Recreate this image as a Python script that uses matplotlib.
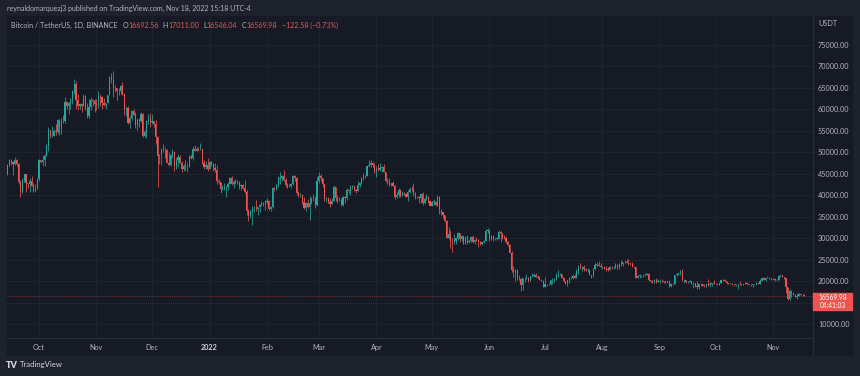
import numpy as np
import pandas as pd
import matplotlib
matplotlib.use("Agg")
import matplotlib.pyplot as plt
import matplotlib.dates as mdates
from matplotlib.patches import Rectangle
from matplotlib.text import Annotation

W, H = 860, 376
BG = "#161a25"
FRAME = "#1e222d"
UP = "#26a69a"
DOWN = "#ef5350"
TXT = "#b2b5be"
GRID = "#212530"
SEP = "#2a2e39"

plt.rcParams["font.family"] = ["Lato", "DejaVu Sans"]

# daily candles, BTC/USDT (thousands), Sep 14 2021 .. Nov 18 2022
first_open = 44.9
close = [
    # Sep 21 (14..30)
    47.1, 48.1, 47.8, 47.3, 48.3, 47.3, 43.0, 40.7, 43.6, 44.9, 42.8, 42.7, 43.2, 42.2, 41.0, 41.5, 43.8,
    # Oct 21
    48.1, 47.7, 48.2, 49.2, 51.5, 55.3, 53.8, 53.9, 54.9, 54.7, 57.5, 56.0, 57.4, 57.3, 61.7, 60.9,
    61.5, 62.0, 64.3, 66.0, 62.2, 60.7, 61.3, 60.9, 63.1, 60.3, 58.5, 60.6, 62.3, 61.9, 61.3,
    # Nov 21
    61.0, 63.2, 62.9, 61.4, 61.0, 61.5, 63.3, 67.5, 66.9, 64.9, 64.9, 64.2, 64.4, 65.5, 63.6,
    60.1, 60.4, 56.9, 58.1, 59.7, 58.7, 56.3, 57.6, 57.2, 58.9, 53.7, 54.7, 57.3, 57.8, 57.0,
    # Dec 21
    57.2, 56.5, 53.6, 49.2, 49.4, 50.6, 50.6, 50.5, 47.6, 47.1, 49.4, 50.1, 46.7, 48.3, 48.9, 47.6,
    46.2, 46.8, 46.7, 46.9, 49.0, 48.6, 50.8, 50.4, 50.8, 50.7, 50.7, 47.5, 46.5, 47.1, 46.2,
    # Jan 22
    47.7, 47.3, 46.4, 45.8, 43.4, 43.1, 41.5, 41.7, 41.8, 41.8, 42.7, 43.9, 42.6, 43.1, 43.2, 43.1,
    42.2, 42.4, 41.7, 40.7, 36.4, 35.1, 36.3, 36.7, 36.9, 36.8, 37.2, 37.7, 38.2, 37.9, 38.5,
    # Feb 22
    38.7, 36.9, 37.3, 41.6, 41.4, 42.4, 43.8, 44.0, 44.4, 43.5, 42.4, 42.2, 42.1, 42.5,
    44.5, 43.9, 40.5, 40.0, 40.1, 38.4, 37.0, 38.2, 37.3, 38.3, 39.2, 39.1, 37.7, 43.2,
    # Mar 22
    44.4, 43.9, 42.5, 39.1, 39.4, 38.4, 37.9, 38.7, 41.9, 39.4, 38.7, 38.8, 37.8, 39.7, 39.3, 41.1,
    40.9, 41.8, 42.2, 41.3, 41.0, 42.4, 42.9, 44.0, 44.3, 44.5, 46.8, 47.1, 47.4, 47.1, 45.5,
    # Apr 22
    46.3, 45.8, 46.4, 46.6, 45.5, 43.2, 43.4, 42.3, 42.8, 42.2, 39.5, 40.1, 41.1, 39.9, 40.5,
    40.4, 39.7, 40.8, 41.5, 41.4, 40.5, 39.7, 39.5, 39.4, 40.4, 38.1, 39.2, 39.7, 38.6, 37.6,
    # May 22
    38.5, 38.5, 37.7, 39.7, 36.6, 36.0, 35.5, 34.0, 30.1, 31.0, 29.1, 29.0, 29.3, 30.1, 31.3, 29.9,
    30.4, 28.7, 30.3, 29.2, 29.4, 30.3, 29.1, 29.6, 29.5, 29.2, 28.6, 29.0, 29.4, 31.7, 31.8,
    # Jun 22
    29.8, 30.4, 29.7, 29.9, 29.9, 31.4, 31.1, 30.2, 30.1, 29.1, 28.4, 26.6, 22.5, 22.1, 22.6,
    20.4, 20.5, 19.0, 20.6, 20.6, 20.7, 19.9, 21.1, 21.2, 21.5, 21.0, 20.7, 20.3, 20.1, 18.7,
    # Jul 22
    19.3, 19.2, 19.3, 20.2, 20.2, 20.5, 21.6, 21.6, 21.6, 20.8, 19.9, 19.3, 20.2, 20.6, 20.8, 21.2,
    20.8, 22.4, 23.4, 23.2, 23.2, 22.7, 22.5, 22.6, 21.3, 21.2, 22.9, 23.8, 23.8, 23.6, 23.3,
    # Aug 22
    23.3, 22.9, 22.8, 22.6, 23.3, 23.2, 23.2, 23.8, 23.2, 23.9, 23.9, 24.4, 24.4, 24.3, 24.1, 23.9,
    23.3, 23.2, 20.8, 21.1, 21.5, 21.4, 21.5, 21.4, 21.6, 20.3, 20.0, 19.6, 20.3, 19.8, 20.0,
    # Sep 22
    20.1, 19.9, 19.8, 20.0, 19.8, 18.8, 19.3, 19.3, 21.4, 21.6, 21.8, 22.4, 20.2, 20.2, 19.7,
    19.8, 20.1, 19.4, 19.5, 18.9, 18.5, 19.4, 19.3, 18.9, 18.8, 19.2, 19.1, 19.4, 19.6, 19.4,
    # Oct 22
    19.3, 19.0, 19.6, 20.3, 20.2, 19.9, 19.5, 19.4, 19.4, 19.1, 19.0, 19.2, 19.4, 19.2, 19.1, 19.3,
    19.5, 19.3, 19.1, 19.0, 19.2, 19.2, 19.6, 19.3, 20.1, 20.8, 20.3, 20.6, 20.8, 20.6, 20.5,
    # Nov 22 (1..18)
    20.5, 20.2, 20.2, 21.1, 21.3, 20.9, 20.6, 18.5, 15.9, 17.6, 17.1, 16.8, 16.3, 16.6, 16.9,
    16.7, 16.69, 16.57,
]
high = [
    47.3, 48.5, 48.5, 48.0, 48.8, 48.4, 47.4, 43.6, 44.0, 45.0, 45.0, 42.9, 43.9, 44.4, 42.8, 42.6, 44.1,
    48.5, 48.2, 49.3, 49.5, 51.9, 55.8, 55.3, 56.1, 55.5, 56.5, 57.8, 57.7, 58.0, 58.6, 62.9, 62.0,
    61.7, 62.7, 64.5, 67.0, 66.6, 63.7, 61.5, 61.5, 63.7, 63.3, 61.5, 62.5, 62.9, 62.4, 62.4,
    62.4, 64.3, 63.5, 63.1, 62.6, 61.6, 63.3, 67.8, 68.5, 69.0, 65.6, 65.0, 64.9, 65.6, 66.4,
    63.6, 60.7, 60.9, 58.4, 59.8, 60.1, 59.3, 57.9, 57.9, 59.4, 59.2, 55.3, 57.5, 58.9, 59.2,
    59.0, 57.4, 57.6, 53.9, 49.7, 50.9, 51.9, 51.2, 50.8, 50.1, 49.5, 50.8, 50.2, 48.7, 49.5, 49.4,
    48.0, 47.3, 48.3, 47.5, 49.3, 49.6, 51.4, 51.8, 51.2, 51.3, 52.1, 50.7, 48.2, 48.0, 48.6,
    47.9, 47.9, 47.6, 47.5, 47.1, 43.7, 43.1, 42.3, 42.8, 42.2, 43.0, 44.3, 44.5, 43.5, 43.8, 43.5,
    43.2, 42.7, 42.6, 43.5, 41.1, 36.8, 36.5, 37.5, 37.6, 38.9, 37.2, 38.0, 38.7, 38.4, 38.8,
    39.3, 38.8, 37.5, 41.8, 41.9, 42.6, 44.5, 45.5, 44.8, 45.8, 43.9, 42.9, 42.7, 42.9,
    44.8, 44.6, 44.2, 40.9, 40.5, 40.4, 39.5, 38.4, 39.2, 39.8, 39.7, 40.3, 39.9, 44.2,
    45.4, 45.0, 44.1, 42.5, 39.6, 39.5, 39.4, 39.4, 42.4, 42.0, 40.0, 39.5, 39.3, 39.9, 39.9, 41.7,
    41.5, 42.3, 42.4, 42.3, 41.5, 43.4, 43.0, 44.2, 45.1, 44.8, 46.9, 48.2, 48.2, 47.7, 47.6,
    46.7, 47.2, 47.4, 46.9, 47.2, 45.5, 43.9, 43.9, 42.8, 43.4, 42.4, 40.7, 41.6, 41.5, 40.9,
    40.7, 40.6, 41.1, 41.8, 42.2, 42.9, 40.8, 39.9, 39.9, 40.6, 40.8, 39.5, 40.4, 39.9, 38.8,
    38.6, 39.2, 38.7, 40.0, 39.8, 36.7, 36.1, 35.5, 34.2, 32.7, 32.0, 30.0, 31.0, 30.3, 31.4, 31.3,
    30.7, 30.5, 30.5, 30.8, 29.6, 30.5, 30.7, 29.8, 30.2, 29.8, 29.4, 29.2, 29.5, 32.2, 32.4,
    32.0, 30.7, 30.7, 30.0, 30.2, 31.8, 31.6, 31.3, 30.7, 30.4, 29.4, 28.6, 26.9, 23.4, 22.8,
    22.9, 21.3, 20.8, 20.8, 21.0, 21.7, 20.9, 21.2, 21.9, 21.9, 21.9, 21.5, 21.2, 20.4, 20.2,
    20.9, 19.4, 19.6, 20.3, 20.7, 20.7, 21.8, 22.5, 21.9, 21.6, 20.9, 20.0, 20.3, 20.9, 21.2, 21.6,
    21.7, 22.8, 23.8, 24.3, 23.4, 23.8, 23.0, 23.0, 22.7, 21.3, 23.0, 24.2, 24.4, 24.7, 24.2,
    23.5, 23.5, 23.6, 23.2, 23.5, 23.4, 23.4, 24.2, 23.9, 24.2, 24.9, 24.5, 25.0, 25.2, 25.2, 24.2,
    24.4, 23.6, 23.2, 21.4, 21.7, 21.5, 21.7, 21.9, 21.8, 21.9, 20.3, 20.2, 20.4, 20.6, 20.5,
    20.2, 20.4, 20.0, 20.0, 20.1, 20.2, 19.5, 19.5, 21.5, 21.8, 21.9, 22.5, 22.8, 20.5, 20.3,
    19.9, 20.2, 20.1, 19.7, 19.6, 19.9, 19.5, 19.5, 19.3, 19.2, 19.3, 20.4, 19.8, 19.6, 20.2,
    19.5, 19.4, 19.7, 20.5, 20.4, 20.4, 20.0, 19.6, 19.5, 19.5, 19.2, 19.2, 19.5, 19.9, 19.2, 19.4,
    19.7, 19.7, 19.3, 19.3, 19.3, 19.3, 19.7, 19.6, 20.4, 21.0, 20.9, 20.8, 21.1, 20.9, 20.8,
    20.8, 20.8, 20.4, 21.3, 21.5, 21.4, 21.0, 20.7, 18.6, 18.2, 17.7, 17.1, 16.9, 17.2, 17.1,
    17.0, 17.0, 17.01,
]
low = [
    44.7, 46.7, 47.0, 44.8, 47.1, 46.8, 42.5, 39.6, 40.6, 43.1, 40.7, 41.7, 40.8, 42.1, 40.8, 40.8, 41.4,
    43.3, 47.4, 46.9, 46.9, 49.1, 50.4, 53.4, 53.6, 53.7, 54.1, 54.4, 54.0, 54.3, 56.8, 56.9, 60.2,
    58.9, 60.1, 61.3, 63.5, 60.0, 59.9, 60.1, 59.5, 60.7, 59.9, 58.0, 57.9, 59.9, 60.7, 59.5,
    59.9, 60.4, 60.7, 60.0, 60.8, 60.1, 61.4, 63.3, 66.2, 62.8, 64.1, 62.3, 63.3, 63.6, 63.4,
    58.6, 58.4, 56.5, 55.6, 57.5, 58.6, 55.6, 55.3, 55.8, 57.0, 53.6, 53.5, 53.3, 56.7, 55.9,
    56.5, 55.9, 52.0, 42.0, 47.3, 47.1, 50.1, 48.7, 47.4, 46.9, 46.9, 48.6, 45.7, 46.1, 46.6, 47.5,
    45.5, 45.6, 45.9, 45.5, 46.6, 48.4, 48.1, 50.4, 50.2, 50.4, 50.5, 47.3, 46.1, 46.0, 45.7,
    46.2, 46.7, 45.7, 45.5, 42.6, 42.5, 40.6, 41.2, 41.3, 39.6, 41.3, 42.5, 42.3, 41.7, 42.6, 42.6,
    41.5, 41.3, 41.5, 40.6, 35.5, 34.0, 34.6, 33.0, 36.2, 36.4, 35.5, 36.2, 37.4, 37.4, 36.6,
    38.0, 36.6, 36.3, 37.0, 40.9, 41.1, 42.0, 42.7, 43.2, 43.2, 41.9, 41.6, 41.8, 41.6,
    42.4, 43.3, 40.1, 39.5, 39.6, 38.0, 36.8, 36.3, 37.1, 34.3, 38.0, 38.6, 37.0, 37.5,
    42.8, 43.3, 41.8, 38.6, 38.4, 38.1, 37.2, 37.9, 38.6, 38.6, 38.2, 38.6, 37.6, 37.6, 38.1, 38.9,
    40.5, 40.1, 41.5, 40.9, 40.5, 40.9, 41.9, 42.6, 43.6, 44.1, 44.4, 46.6, 46.6, 46.5, 45.2,
    44.2, 45.6, 45.6, 45.4, 45.4, 43.1, 42.7, 42.1, 42.2, 42.1, 39.2, 39.3, 39.6, 39.6, 39.8,
    40.0, 39.6, 38.6, 40.6, 40.9, 39.8, 39.2, 39.3, 38.2, 38.2, 37.7, 37.9, 38.9, 38.2, 37.6,
    37.4, 37.7, 37.5, 37.6, 35.6, 35.3, 34.8, 33.7, 30.0, 29.7, 27.7, 26.7, 28.7, 28.6, 29.5, 29.1,
    29.4, 28.6, 28.7, 28.7, 28.9, 29.2, 28.8, 28.7, 29.3, 28.0, 28.3, 28.5, 28.8, 29.3, 31.2,
    29.3, 29.5, 29.3, 29.5, 29.5, 29.9, 29.2, 29.9, 29.9, 28.9, 28.1, 26.6, 22.0, 20.9, 20.1,
    20.2, 20.2, 17.6, 18.0, 19.7, 20.4, 19.8, 19.9, 20.9, 21.0, 21.0, 20.5, 20.2, 19.9, 18.6,
    18.9, 18.9, 19.0, 19.0, 19.3, 19.8, 20.2, 21.0, 21.3, 20.6, 19.8, 19.2, 18.9, 19.6, 20.4, 20.5,
    20.7, 20.7, 21.6, 22.9, 22.3, 22.4, 22.3, 22.2, 21.3, 20.7, 21.0, 22.6, 23.4, 23.4, 23.1,
    22.8, 22.7, 22.4, 22.4, 22.6, 22.9, 22.8, 23.1, 22.9, 22.7, 23.6, 23.6, 24.2, 24.1, 23.8, 23.7,
    23.2, 23.0, 20.8, 20.8, 20.8, 20.9, 20.9, 21.1, 21.3, 20.1, 19.8, 19.6, 19.5, 19.6, 19.7,
    19.6, 19.8, 19.6, 19.6, 19.6, 18.7, 18.6, 19.0, 19.3, 21.1, 21.3, 21.5, 19.9, 19.6, 19.5,
    19.5, 19.7, 19.3, 18.3, 18.7, 18.2, 18.1, 18.8, 18.8, 18.6, 18.7, 18.8, 18.5, 18.9, 19.2,
    19.2, 19.0, 19.0, 19.6, 20.0, 19.9, 19.3, 19.3, 19.3, 19.1, 18.9, 18.9, 18.2, 19.1, 19.0, 19.1,
    19.2, 19.2, 19.0, 18.9, 18.7, 19.1, 19.1, 19.2, 19.3, 20.1, 20.2, 20.0, 20.6, 20.5, 20.2,
    20.2, 20.0, 20.0, 20.2, 21.0, 20.9, 20.4, 17.2, 15.6, 15.7, 16.4, 16.7, 16.3, 15.8, 16.5,
    16.5, 16.5, 16.55,
]
dates = pd.date_range("2021-09-14", "2022-11-18", freq="D")

price_ticks = list(range(10, 80, 5))
hidden_tick = 15  # covered by the last-price tag
month_ticks = pd.date_range("2021-10-01", "2022-11-01", freq="MS")
last_price = 16.56998
price_tag = "16569.98\n04:41:03"

header = "reynaldomarquezj3 published on TradingView.com, Nov 18, 2022 15:18 UTC-4"
legend_parts = [("Bitcoin / TetherUS, 1D, BINANCE", TXT, 0),
                ("O", TXT, 5), ("16692.56", DOWN, 0),
                ("H", TXT, 4), ("17011.00", DOWN, 0),
                ("L", TXT, 4), ("16546.04", DOWN, 0),
                ("C", TXT, 4), ("16569.98", DOWN, 0),
                ("\u2212122.58 (\u22120.73%)", DOWN, 5)]


def fx(x):
    return x / W


def fy(y):
    return 1 - y / H


fig = plt.figure(figsize=(W / 100, H / 100), dpi=100, facecolor=FRAME)
fig.patches.append(Rectangle((fx(7), fy(355)), fx(852 - 7), (355 - 16) / H,
                             transform=fig.transFigure, color=BG, zorder=-5))

ax = fig.add_axes([fx(7), fy(338), fx(813 - 7), (338 - 16) / H])
ax.set_facecolor(BG)

c = np.array(close)
o = np.array([first_open] + close[:-1])
hi = np.maximum(np.array(high), np.maximum(o, c))
lo = np.minimum(np.array(low), np.minimum(o, c))
x = mdates.date2num(dates)
cols = np.where(c >= o, UP, DOWN)

ax.vlines(x, lo, hi, colors=cols, lw=0.55, zorder=2)
body = np.maximum(np.abs(c - o), 0.07)
ax.bar(x, body, bottom=np.minimum(o, c), width=0.62, color=cols, linewidth=0, zorder=3)

ax.axhline(last_price, color=DOWN, lw=0.6, ls=(0, (1, 1.5)), alpha=0.6, zorder=1)

oct1 = mdates.date2num(pd.Timestamp("2021-10-01"))
ax.set_xlim(oct1 - 17.26, oct1 + 417.6)
ax.set_ylim(6.73, 81.76)

ax.set_xticks(mdates.date2num(month_ticks))
ax.set_xticklabels(["2022" if d.month == 1 else d.strftime("%b") for d in month_ticks])
ax.set_yticks(price_ticks)
ax.set_yticklabels(["" if v == hidden_tick else f"{v * 1000:.2f}" for v in price_ticks])
ax.yaxis.tick_right()
ax.tick_params(axis="both", length=0, labelcolor=TXT, labelsize=5.2)
ax.tick_params(axis="y", pad=3.6)
ax.tick_params(axis="x", pad=4.5)
for lab in ax.get_xticklabels():
    if lab.get_text() == "2022":
        lab.set_fontweight("bold")
        lab.set_color("#d1d4dc")
ax.grid(True, color=GRID, lw=0.6, zorder=0)
ax.set_axisbelow(True)
for s in ["top", "left"]:
    ax.spines[s].set_visible(False)
for s in ["right", "bottom"]:
    ax.spines[s].set_color(SEP)
    ax.spines[s].set_linewidth(0.8)

# separator continuing through time axis row
fig.add_artist(plt.Line2D([fx(813), fx(813)], [fy(338), fy(355)], color=SEP, lw=0.8,
                          transform=fig.transFigure))

fig.text(fx(818), fy(24), "USDT", color=TXT, fontsize=5.2, va="center", ha="left")

# last price tag
fig.add_artist(Rectangle((fx(813), fy(310)), fx(852 - 813), (310 - 293) / H,
                         transform=fig.transFigure, color=DOWN, zorder=3))
fig.text(fx(832.5), fy(301.6), price_tag, color="white", fontsize=4.8, ha="center",
         va="center", linespacing=1.15, zorder=4)

# header
fig.text(fx(7), fy(8.5), header, color=TXT, fontsize=5.0, va="center", ha="left")

# legend line: pieces chained one after another
prev = fig.text(fx(11), fy(25), legend_parts[0][0], color=legend_parts[0][1],
                fontsize=5.1, va="center", ha="left")
for s, col, gap in legend_parts[1:]:
    prev = fig.add_artist(Annotation(
        s, xy=(1, 0.5), xycoords=prev, xytext=(gap * 0.72, 0),
        textcoords="offset points", color=col, fontsize=5.1, va="center", ha="left"))

# footer logo
fig.text(fx(6), fy(365), "TV", color="#d1d4dc", fontsize=6.5, fontweight="heavy",
         va="center", ha="left")
fig.text(fx(20), fy(365), "TradingView", color="#d1d4dc", fontsize=5.6, va="center", ha="left")

fig.savefig("out.png", dpi=100, facecolor=FRAME)
